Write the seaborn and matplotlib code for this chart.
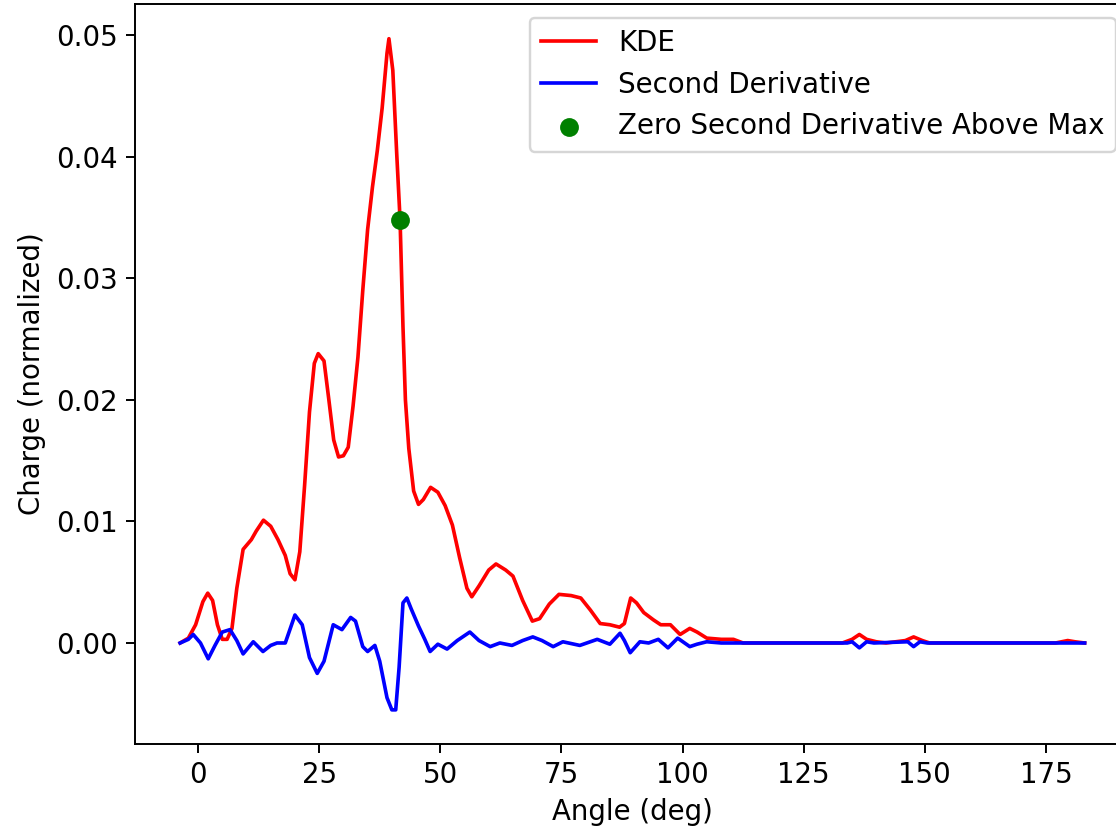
import numpy as np
import pandas as pd
import matplotlib
matplotlib.use("Agg")
import matplotlib.pyplot as plt
import seaborn as sns

plt.rcParams["font.size"] = 11.4

# KDE curve (angle in deg, normalized charge)
kde_angle = [-3.7, -2.0, -0.5, 1.0, 2.0, 3.0, 4.0, 5.0, 6.0, 7.0, 8.0, 9.3, 11.0, 12.0,
             13.5, 15.0, 16.5, 18.0, 19.0, 20.0, 21.0, 22.0, 23.0, 24.0, 24.8, 26.0, 27.0,
             28.0, 29.0, 30.0, 31.0, 32.0, 33.0, 34.0, 35.0, 36.0, 37.0, 38.0, 39.0, 39.4,
             40.2, 41.0, 41.7, 42.3, 42.8, 43.5, 44.5, 45.5, 46.5, 48.0, 49.5, 51.0, 52.5,
             54.0, 55.5, 56.5, 58.0, 60.0, 61.5, 63.5, 65.0, 67.0, 69.0, 70.5, 72.5, 74.5,
             77.0, 79.0, 81.0, 83.0, 85.0, 87.0, 88.0, 89.3, 90.5, 92.0, 94.0, 95.5, 97.5,
             99.5, 101.5, 103.0, 105.0, 108.0, 110.5, 112.5, 133.0, 135.0, 136.5, 138.0,
             140.0, 142.0, 146.0, 147.7, 149.5, 151.0, 177.0, 179.5, 181.0, 183.0]
kde_value = [0.0000, 0.0004, 0.0015, 0.0034, 0.0041, 0.0035, 0.0015, 0.0003, 0.0003, 0.0012,
             0.0045, 0.0077, 0.0085, 0.0092, 0.0101, 0.0096, 0.0085, 0.0072, 0.0057, 0.0052,
             0.0075, 0.0130, 0.0190, 0.0230, 0.0238, 0.0232, 0.0200, 0.0167, 0.0153, 0.0154,
             0.0161, 0.0195, 0.0235, 0.0290, 0.0340, 0.0375, 0.0405, 0.0440, 0.0485, 0.0497,
             0.0471, 0.0403, 0.0348, 0.0260, 0.0200, 0.0160, 0.0125, 0.0114, 0.0118, 0.0128,
             0.0124, 0.0113, 0.0097, 0.0070, 0.0045, 0.0038, 0.0047, 0.0060, 0.0065, 0.0060,
             0.0055, 0.0035, 0.0018, 0.0020, 0.0032, 0.0040, 0.0039, 0.0037, 0.0027, 0.0016,
             0.0015, 0.0013, 0.0016, 0.0037, 0.0033, 0.0025, 0.0019, 0.0015, 0.0015, 0.0007,
             0.0012, 0.0009, 0.0004, 0.0003, 0.0003, 0.0000, 0.0000, 0.0003, 0.0007, 0.0003,
             0.0001, 0.0000, 0.0002, 0.0005, 0.0002, 0.0000, 0.0000, 0.0002, 0.0001, 0.0000]

# Scaled second derivative
d2_angle = [-3.7, -2.0, -1.0, 0.5, 2.1, 3.5, 5.0, 6.6, 8.0, 9.3, 11.4, 13.4, 15.0, 16.3,
            18.0, 20.0, 21.5, 23.0, 24.6, 26.0, 27.9, 29.7, 31.5, 32.5, 34.0, 35.0, 36.5,
            37.5, 39.0, 40.0, 40.8, 41.5, 42.3, 43.1, 44.0, 45.5, 46.8, 47.9, 49.5, 51.4,
            53.5, 56.1, 58.0, 60.3, 62.3, 64.8, 67.0, 69.1, 71.0, 73.3, 75.3, 78.8, 82.4,
            85.0, 87.1, 88.0, 89.2, 91.2, 93.0, 95.0, 97.0, 99.0, 101.5, 103.0, 105.0,
            108.0, 134.0, 135.0, 136.5, 138.0, 139.5, 146.5, 147.7, 149.0, 150.5, 183.0]
d2_value = [0.0000, 0.0003, 0.0007, 0.0000, -0.0013, -0.0002, 0.0009, 0.0011, 0.0002,
            -0.0009, 0.0001, -0.0007, -0.0002, 0.0000, 0.0000, 0.0023, 0.0015, -0.0012,
            -0.0025, -0.0015, 0.0015, 0.0011, 0.0021, 0.0018, -0.0003, -0.0007, -0.0002,
            -0.0015, -0.0045, -0.0055, -0.0055, -0.0020, 0.0033, 0.0037, 0.0028, 0.0014,
            0.0003, -0.0007, -0.0001, -0.0005, 0.0002, 0.0009, 0.0002, -0.0003, 0.0000,
            -0.0002, 0.0002, 0.0005, 0.0002, -0.0003, 0.0001, -0.0002, 0.0003, -0.0001,
            0.0008, 0.0002, -0.0008, 0.0001, 0.0000, 0.0003, -0.0004, 0.0004, -0.0003,
            -0.0001, 0.0001, 0.0000, 0.0000, 0.0001, -0.0004, 0.0001, 0.0000, 0.0001,
            -0.0003, 0.0001, 0.0000, 0.0000]

# Zero of second derivative above the maximum
zero_angle = [41.7]
zero_value = [0.0348]

kde_df = pd.DataFrame({"angle": kde_angle, "value": kde_value})
d2_df = pd.DataFrame({"angle": d2_angle, "value": d2_value})
zero_df = pd.DataFrame({"angle": zero_angle, "value": zero_value})

fig = plt.figure(figsize=(1116 / 175, 833 / 175), dpi=175)
ax = fig.add_axes([0.1209, 0.1074, 0.8915, 0.888])

sns.lineplot(data=kde_df, x="angle", y="value", color="red", label="KDE", ax=ax,
             linewidth=1.5)
sns.lineplot(data=d2_df, x="angle", y="value", color="blue", label="Second Derivative",
             ax=ax, linewidth=1.5)
sns.scatterplot(data=zero_df, x="angle", y="value", color="green", s=60, linewidth=0,
                label="Zero Second Derivative Above Max", ax=ax, zorder=3)

ax.set_xlim(-13.03, 192.33)
ax.set_ylim(-0.00827, 0.05257)
ax.set_xticks([0, 25, 50, 75, 100, 125, 150, 175])
ax.set_yticks([0.00, 0.01, 0.02, 0.03, 0.04, 0.05])
ax.set_xlabel("Angle (deg)")
ax.set_ylabel("Charge (normalized)")
ax.legend(loc="upper right")

fig.savefig("out.png", dpi=175)
